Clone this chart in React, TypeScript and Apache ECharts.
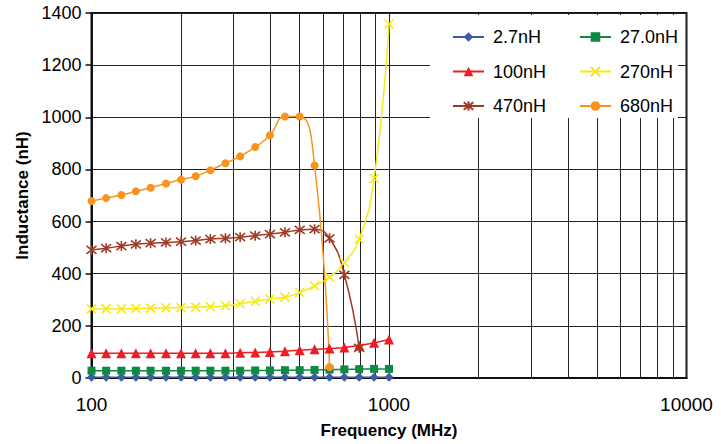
import React, { useEffect, useRef } from "react";
import * as echarts from "echarts";

const freqs = [100, 112, 126, 141, 158, 178, 200, 224, 251, 282, 316, 355, 398, 447, 501, 562, 631, 708, 794, 891, 1000];
const l2p7 = [3, 3, 3, 3, 3, 3, 3, 3, 3, 3, 3, 3, 3, 3, 3, 3, 3, 3, 3, 3, 3];
const l27 = [28, 28, 28, 28, 28, 28, 28, 28, 28, 28, 28, 29, 29, 30, 30, 31, 32, 33, 34, 35, 35];
const l100 = [95, 95, 95, 95, 95, 95, 95, 95, 95, 95, 97, 98, 100, 103, 106, 110, 113, 117, 125, 135, 148];
const l270 = [265, 265, 265, 267, 268, 269, 270, 272, 273, 277, 285, 294, 303, 310, 328, 354, 387, 443, 532, 765, 1358];
const l470 = [491, 498, 506, 513, 517, 520, 523, 527, 533, 536, 540, 546, 552, 559, 568, 571, 536, 396, 116];
const l680 = [679, 690, 702, 716, 730, 746, 761, 774, 797, 824, 850, 886, 931, 1003, 1003, 815, 42];
const yTicks = [0, 200, 400, 600, 800, 1000, 1200, 1400];
const xTicks = [100, 1000, 10000];
const minorFreqs = [200, 300, 400, 500, 600, 700, 800, 900, 2000, 3000, 4000, 5000, 6000, 7000, 8000, 9000];
const names = ["2.7nH", "27.0nH", "100nH", "270nH", "470nH", "680nH"];

const FONT = "'Liberation Sans', Arial, sans-serif";
const X_PATH = "path://M0,0L10,10M10,0L0,10";
const STAR_PATH = "path://M1,1L9,9M9,1L1,9M5,0L5,10";

export default function App() {
  const ref = useRef<HTMLDivElement>(null);
  useEffect(() => {
    document.body.style.margin = "0";
    if (!ref.current) return;
    const chart = echarts.init(ref.current, undefined, { renderer: "svg" });
    const pts = (vals: number[]) => vals.map((v, i) => [freqs[i], v]);
    const mk = (name: string, vals: number[], color: string, symbol: string, size: number, stroke = false) => ({
      name,
      type: "line",
      data: pts(vals),
      smooth: true,
      z: 3,
      symbol,
      symbolSize: size,
      showAllSymbol: true,
      lineStyle: { color, width: 1.5 },
      itemStyle: stroke
        ? { color: "rgba(0,0,0,0)", borderColor: color, borderWidth: 1.6 }
        : { color, borderWidth: 0 },
      emphasis: { disabled: true },
    });
    const legendText = { color: "#000", fontSize: 18, fontFamily: FONT, lineHeight: 20, padding: [0, 0, 0, 4] };
    chart.setOption({
      animation: false,
      grid: { left: 91.5, right: 34.5, top: 13, bottom: 65.5, show: true, borderColor: "#111", borderWidth: 2, backgroundColor: "#fff" },
      xAxis: {
        type: "log",
        logBase: 10,
        min: 100,
        max: 10000,
        name: "Frequency (MHz)",
        nameLocation: "middle",
        nameGap: 44,
        nameTextStyle: { color: "#000", fontSize: 17, fontWeight: "bold", fontFamily: FONT },
        axisLine: { show: true, lineStyle: { color: "#111", width: 2 } },
        axisTick: { show: false },
        axisLabel: {
          color: "#000",
          fontSize: 19,
          fontFamily: FONT,
          margin: 17,
          formatter: (v: number) => {
            const t = xTicks.find((x) => Math.abs(x - v) < x * 0.01);
            return t === undefined ? "" : String(t);
          },
        },
        splitLine: { show: true, lineStyle: { color: "#222", width: 1 } },
        minorTick: { show: false },
        minorSplitLine: { show: false },
      },
      yAxis: {
        type: "value",
        min: 0,
        max: 1400,
        interval: 200,
        name: "Inductance (nH)",
        nameLocation: "middle",
        nameGap: 61,
        nameTextStyle: { color: "#000", fontSize: 17, fontWeight: "bold", fontFamily: FONT },
        axisLine: { show: true, lineStyle: { color: "#111", width: 2 } },
        axisTick: { show: true, length: 6, lineStyle: { color: "#111", width: 1.5 } },
        axisLabel: {
          color: "#000",
          fontSize: 18,
          fontFamily: FONT,
          margin: 10,
          formatter: (v: number) => (yTicks.includes(v) ? String(v) : ""),
        },
        splitLine: { show: true, lineStyle: { color: "#222", width: 1 } },
      },
      legend: [
        {
          data: [names[0], names[2], names[4]],
          orient: "vertical",
          left: 452,
          top: 27,
          padding: 0,
          itemWidth: 31,
          itemHeight: 12,
          itemGap: 14.5,
          textStyle: legendText,
          selectedMode: false,
          z: 6,
        },
        {
          data: [names[1], names[3], names[5]],
          orient: "vertical",
          left: 579,
          top: 27,
          padding: 0,
          itemWidth: 31,
          itemHeight: 12,
          itemGap: 14.5,
          textStyle: legendText,
          selectedMode: false,
          z: 6,
        },
      ],
      graphic: [
        { type: "rect", z: 2, shape: { x: 430, y: 15, width: 248, height: 103 }, style: { fill: "#fff" } },
      ],
      series: [
        {
          type: "line",
          name: "grid",
          data: [],
          z: 1,
          silent: true,
          markLine: {
            z: 1,
            silent: true,
            symbol: ["none", "none"],
            label: { show: false },
            lineStyle: { color: "#222", width: 1, type: "solid" },
            emphasis: { disabled: true },
            data: minorFreqs.map((v) => ({ xAxis: v })),
          },
        },
        mk(names[0], l2p7, "#3C5AA8", "diamond", 9),
        mk(names[1], l27, "#0E8A43", "rect", 8),
        mk(names[2], l100, "#EE1C25", "triangle", 10),
        mk(names[3], l270, "#F5EA14", X_PATH, 9, true),
        mk(names[4], l470, "#9E3B26", STAR_PATH, 10, true),
        mk(names[5], l680, "#F7941D", "circle", 8),
      ],
    });
    return () => chart.dispose();
  }, []);
  return <div ref={ref} style={{ width: 721, height: 444 }} />;
}
